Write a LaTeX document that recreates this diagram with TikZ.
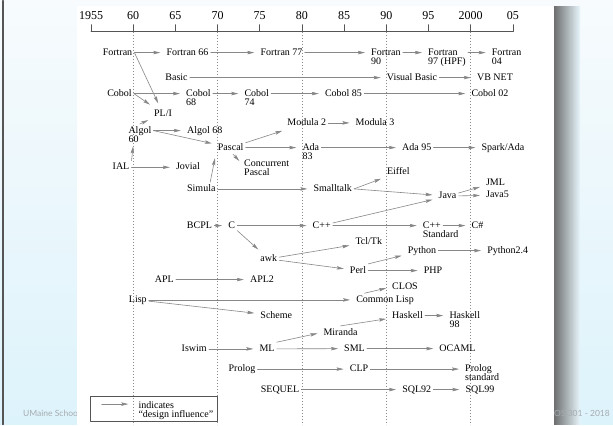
\documentclass[tikz,border=0pt]{standalone}
\usepackage{fontspec}
\setmainfont{Liberation Serif}
\newfontfamily\footfont{Lato}
\usetikzlibrary{arrows.meta}

\definecolor{bgTop}{RGB}{247,251,253}
\definecolor{bgBottom}{RGB}{221,243,251}
\definecolor{inflGray}{RGB}{135,135,135}
\definecolor{lineGray}{RGB}{140,140,140}
\definecolor{axisGray}{RGB}{85,85,85}
\definecolor{footGray}{RGB}{165,172,176}
\definecolor{shadowGray}{RGB}{105,105,105}

\begin{document}
\begin{tikzpicture}[x=1pt, y=-1pt, line cap=round, line join=round,
  font=\fontsize{10}{8.7}\selectfont]

% ---------------- styles ----------------
\tikzset{
  lang/.style={inner xsep=2pt, inner ysep=2pt, text height=7pt, text depth=2pt},
  langW/.style={lang, anchor=west},
  sub/.style={anchor=north west, inner xsep=2pt, inner ysep=0pt, text height=4.7pt, text depth=0pt},
  infl/.style={draw=inflGray, line width=0.6pt, shorten >=4pt,
    -{Stealth[length=7pt, width=3.4pt, inset=1.2pt, fill=inflGray]}},
  yearLine/.style={lineGray, line width=0.55pt, line cap=butt, dash pattern=on 0.8pt off 2.2pt},
  axis/.style={axisGray, line width=0.6pt},
  year/.style={font=\fontsize{12}{12}\selectfont, inner sep=1pt},
  foot/.style={footGray, font=\footfont\fontsize{8.5}{8.5}\selectfont, inner sep=0pt}
}

% ---------------- parameters ----------------
\def\xA{91}        % x of 1955
\def\xStep{8.436}  % one year
\def\yAxis{31}     % time axis

% ---------------- slide background ----------------
\shade[top color=bgTop, bottom color=bgBottom] (0,0) rectangle (613,424);
\draw[axisGray, line width=1.2pt] (3,0) -- (3,424);
\shade[left color=shadowGray, right color=bgBottom!60!bgTop] (553,6) rectangle (580,424);
\node[foot, anchor=base west] (footL) at (23,416) {UMaine School};
\node[foot, anchor=base east] (footR) at (610,416) {COS 301 - 2018};
\fill[white] (77,5) rectangle (553.5,424);

% ---------------- time axis ----------------
\draw[axis] (\xA,\yAxis) -- ({\xA+50*\xStep},\yAxis);
\foreach \yr/\lbl in {1955/1955,1960/60,1965/65,1970/70,1975/75,1980/80,1985/85,1990/90,1995/95,2000/2000,2005/05} {
  \draw[axis] ({\xA+(\yr-1955)*\xStep},\yAxis) -- ++(0,-7);
  \node[year] (yr\yr) at ({\xA+(\yr-1955)*\xStep},15) {\lbl};
}
\foreach \yr in {1960,1970,...,2000}
  \draw[yearLine] ({\xA+(\yr-1955)*\xStep},\yAxis) -- ({\xA+(\yr-1955)*\xStep},424);

% ---------------- languages ----------------
\node[lang] (fortran)   at (117.5,52) {Fortran};
\node[lang] (fortran66) at (187.5,52) {Fortran 66};
\node[lang] (fortran77) at (281.5,52) {Fortran 77};
\node[langW] (fortran90) at (369,52) {Fortran};
\node[sub] (fortran90b) at (fortran90.south west) {90};
\node[langW] (fortran97) at (426,52) {Fortran};
\node[sub] (fortran97b) at (fortran97.south west) {97 (HPF)};
\node[langW] (fortran04) at (489.7,52) {Fortran};
\node[sub] (fortran04b) at (fortran04.south west) {04};

\node[lang] (basic)  at (176.5,77) {Basic};
\node[lang] (vbasic) at (412,77) {Visual Basic};
\node[lang] (vbnet)  at (495,77) {VB NET};

\node[lang] (cobol)  at (119.5,93) {Cobol};
\node[langW] (cobol68) at (184,93) {Cobol};
\node[sub] (cobol68b) at (cobol68.south west) {68};
\node[langW] (cobol74) at (242.3,93) {Cobol};
\node[sub] (cobol74b) at (cobol74.south west) {74};
\node[lang] (cobol85) at (343.5,93) {Cobol 85};
\node[lang] (cobol02) at (490,93) {Cobol 02};

\node[lang] (pli) at (163,113) {PL/I};
\node[langW] (algol60) at (126.3,130) {Algol};
\node[sub] (algol60b) at (algol60.south west) {60};
\node[lang] (algol68) at (204.7,130) {Algol 68};
\node[lang] (modula2) at (306.7,122.3) {Modula 2};
\node[lang] (modula3) at (375,122.3) {Modula 3};

\node[lang] (pascal) at (230.7,147) {Pascal};
\node[langW] (ada83) at (300.3,147) {Ada};
\node[sub] (ada83b) at (ada83.south west) {83};
\node[lang] (ada95) at (416.7,147) {Ada 95};
\node[lang] (sparkada) at (503,147) {Spark/Ada};
\node[langW] (cpascal) at (242,163.3) {Concurrent};
\node[sub] (cpascalb) at (cpascal.south west) {Pascal};

\node[lang] (ial)    at (121,166.7) {IAL};
\node[lang] (jovial) at (188,166.7) {Jovial};
\node[lang] (simula)    at (201.3,188.3) {Simula};
\node[lang] (smalltalk) at (332.7,188.3) {Smalltalk};
\node[lang] (eiffel) at (398.3,171.7) {Eiffel};
\node[lang] (java)  at (447.5,195.5) {Java};
\node[lang] (jml)   at (495.5,182) {JML};
\node[lang] (java5) at (497.5,194.5) {Java5};

\node[lang] (bcpl) at (199.5,225) {BCPL};
\node[lang] (c)    at (231.7,225) {C};
\node[lang] (cpp)  at (321.7,225) {C++};
\node[langW] (cppstd) at (420.7,225) {C++};
\node[sub] (cppstdb) at (cppstd.south west) {Standard};
\node[lang] (csharp) at (477.5,225) {C\#};

\node[lang] (tcltk)    at (368.8,241.7) {Tcl/Tk};
\node[lang] (python)   at (422,250) {Python};
\node[lang] (python24) at (507.7,250) {Python2.4};
\node[lang] (awk)  at (268.7,258.3) {awk};
\node[lang] (perl) at (358,270) {Perl};
\node[lang] (php)  at (433,270) {PHP};
\node[lang] (apl)  at (164.3,279) {APL};
\node[lang] (apl2) at (262,279) {APL2};
\node[lang] (clos)  at (405,286.7) {CLOS};
\node[lang] (lisp)  at (137.8,299.3) {Lisp};
\node[lang] (clisp) at (385,299.3) {Common Lisp};
\node[lang] (scheme)  at (276.3,315) {Scheme};
\node[lang] (haskell) at (407.5,315) {Haskell};
\node[langW] (haskell98) at (447.3,315) {Haskell};
\node[sub] (haskell98b) at (haskell98.south west) {98};
\node[lang] (miranda) at (340.5,332) {Miranda};

\node[lang] (iswim) at (194.2,348.3) {Iswim};
\node[lang] (ml)    at (267,348.3) {ML};
\node[lang] (sml)   at (354.5,348) {SML};
\node[lang] (ocaml) at (457.5,348) {OCAML};
\node[lang] (prolog) at (242,368.5) {Prolog};
\node[lang] (clp)    at (359,368.5) {CLP};
\node[langW] (prologstd) at (463,368.5) {Prolog};
\node[sub] (prologstdb) at (prologstd.south west) {standard};
\node[lang] (sequel) at (280,389) {SEQUEL};
\node[lang] (sql92)  at (416.7,389) {SQL92};
\node[lang] (sql99)  at (480,389) {SQL99};

% ---------------- design influences ----------------
\draw[infl] (fortran) -- (fortran66);
\draw[infl] (fortran66) -- (fortran77);
\draw[infl] (fortran77) -- (fortran90);
\draw[infl] (fortran90) -- (fortran97);
\draw[infl] (fortran97b.east |- fortran97) -- (fortran04);
\draw[infl] (fortran.east) -- (pli);
\draw[infl] (basic) -- (vbasic);
\draw[infl] (vbasic) -- (vbnet);
\draw[infl] (cobol) -- (cobol68);
\draw[infl] (cobol.east) -- (pli);
\draw[infl] (cobol68) -- (cobol74);
\draw[infl] (cobol74) -- (cobol85);
\draw[infl] (cobol85) -- (cobol02);

\draw[infl] (algol60.north) -- (pli);
\draw[infl] (algol60) -- (algol68);
\draw[infl] (algol60.east) -- (pascal);
\draw[infl] (ial.north east) -- (algol60b.south);
\draw[infl] (ial) -- (jovial);
\draw[infl] (pascal) -- (modula2);
\draw[infl] (modula2) -- (modula3);
\draw[infl] (pascal) -- (ada83);
\draw[infl] (ada83) -- (ada95);
\draw[infl] (ada95) -- (sparkada);
\draw[infl] (pascal.-70) -- (cpascal.west);
\draw[infl] (simula.37) -- (pascal.south west);
\draw[infl] (simula) -- (smalltalk);
\draw[infl] (smalltalk.east) -- (eiffel);
\draw[infl] (smalltalk.east) -- (java);
\draw[infl] (cpp) -- (java);
\draw[infl] (java) -- (jml);
\draw[infl] (java) -- (java5);

\draw[infl] (bcpl) -- (c);
\draw[infl] (c) -- (cpp);
\draw[infl] (cpp) -- (cppstd);
\draw[infl] (cppstd) -- (csharp);
\draw[infl] (c) -- (awk);
\draw[infl] (awk) -- (tcltk);
\draw[infl] (awk) -- (perl);
\draw[infl] (perl.north east) -- (python);
\draw[infl] (python) -- (python24);
\draw[infl] (perl) -- (php);
\draw[infl] (apl) -- (apl2);
\draw[infl] (lisp) -- (clisp);
\draw[infl] (clisp.162) -- (clos.west);
\draw[infl] (lisp) -- (scheme);

\draw[infl] (miranda.north) -- (haskell);
\draw[infl] (haskell) -- (haskell98);
\draw[infl] (iswim) -- (ml);
\draw[infl] (ml.north east) -- (miranda.west);
\draw[infl] (ml) -- (sml);
\draw[infl] (sml) -- (ocaml);
\draw[infl] (prolog) -- (clp);
\draw[infl] (clp) -- (prologstd);
\draw[infl] (sequel) -- (sql92);
\draw[infl] (sql92) -- (sql99);

% ---------------- legend ----------------
\draw[axisGray, line width=0.5pt] (90.7,396) rectangle (217.3,421);
\coordinate (legFrom) at (101.7,403.5);
\coordinate (legTo) at (132.3,403.5);
\draw[infl] (legFrom) -- (legTo);
\node[anchor=north west, align=left, inner sep=0pt] (legText) at (138.3,401) {indicates\\``design influence''};

\end{tikzpicture}
\end{document}
